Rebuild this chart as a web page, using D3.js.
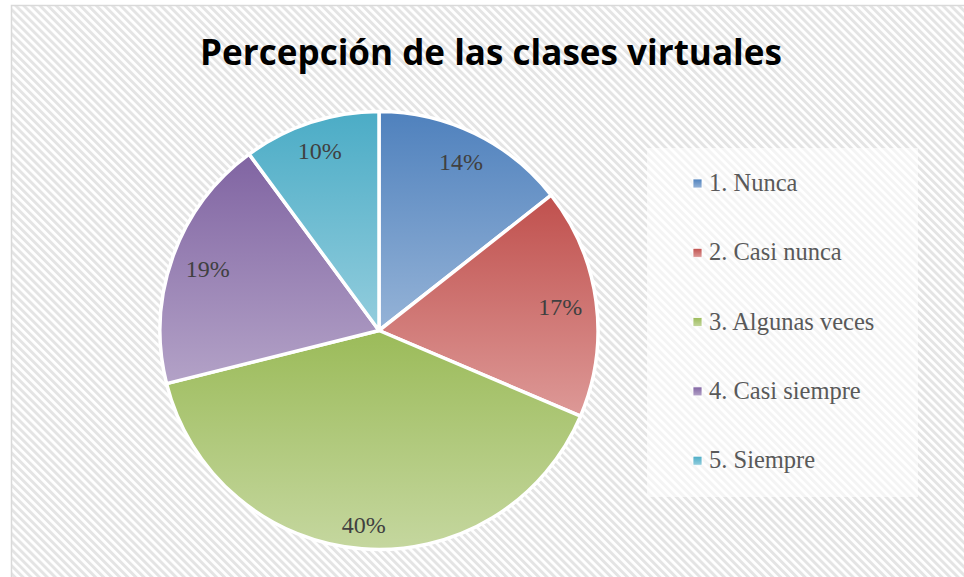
<!DOCTYPE html>
<html>
<head>
<meta charset="utf-8">
<script src="https://cdn.jsdelivr.net/npm/d3@7"></script>
<style>
  body { margin: 0; background: #fff; }
</style>
</head>
<body>
<div id="chart"></div>
<script>
var w = 964;
var h = 577;

// data (shares; labels show them rounded)
var categories = ["1. Nunca", "2. Casi nunca", "3. Algunas veces", "4. Casi siempre", "5. Siempre"];
var values = [14.4, 17.0, 39.7, 18.8, 10.1];
var darkColors = ["#4f81bd", "#c0504d", "#9bbb59", "#8064a2", "#4bacc6"];
var lightColors = ["#95b3d7", "#dd9997", "#c5d79f", "#b3a2c7", "#93cddd"];
var title = "Percepción de las clases virtuales";

var svg = d3.select("#chart")
    .append("svg")
    .attr("width", w)
    .attr("height", h);

var defs = svg.append("defs");

// diagonal hatch background
var hatch = defs.append("pattern")
    .attr("id", "hatch")
    .attr("patternUnits", "userSpaceOnUse")
    .attr("width", 5.7)
    .attr("height", 5.7)
    .attr("patternTransform", "rotate(-45)");
hatch.append("rect").attr("width", 5.7).attr("height", 5.7).attr("fill", "#ffffff");
hatch.append("rect").attr("width", 2.9).attr("height", 5.7).attr("fill", "#e4e4e4");

// one vertical gradient per slice
categories.forEach(function(c, i) {
  var gr = defs.append("linearGradient")
      .attr("id", "grad" + i)
      .attr("x1", 0).attr("y1", 0).attr("x2", 0).attr("y2", 1);
  gr.append("stop").attr("offset", "0%").attr("stop-color", darkColors[i]);
  gr.append("stop").attr("offset", "100%").attr("stop-color", lightColors[i]);
});

// chart area
svg.append("rect")
    .attr("x", 11.5)
    .attr("y", 5.5)
    .attr("width", w)
    .attr("height", h)
    .attr("fill", "url(#hatch)")
    .attr("stroke", "#d9d9d9")
    .attr("stroke-width", 1.5);

// title, sized to the width it takes in the reference
var titleText = svg.append("text")
    .attr("x", 491)
    .attr("y", 65)
    .attr("text-anchor", "middle")
    .style("font-family", "'Open Sans', 'Noto Sans', sans-serif")
    .style("font-weight", "bold")
    .style("font-size", "40px")
    .attr("fill", "#000")
    .text(title);
var tw = titleText.node().getComputedTextLength();
titleText.style("font-size", (40 * 582 / tw) + "px");

// pie
var cx = 379, cy = 330.5, radius = 219;

var pie = d3.pie().sort(null).value(function(d) { return d; });
var arcs = pie(values);

var arc = d3.arc().innerRadius(0).outerRadius(radius);

var g = svg.append("g")
    .attr("transform", "translate(" + cx + "," + cy + ")");

g.selectAll(".slice")
  .data(arcs)
  .enter().append("path")
    .attr("class", "slice")
    .attr("d", arc)
    .attr("fill", function(d, i) { return "url(#grad" + i + ")"; })
    .attr("stroke", "#fff")
    .attr("stroke-width", 3.5)
    .attr("stroke-linejoin", "round");

// labels sit inside the slice, pushed out until their box nearly touches the rim
var labels = g.selectAll(".label")
  .data(arcs)
  .enter().append("text")
    .attr("class", "label")
    .attr("dy", "0.35em")
    .attr("text-anchor", "middle")
    .style("font-family", "'Liberation Serif', 'DejaVu Serif', serif")
    .style("font-size", "24px")
    .attr("fill", "#404040")
    .text(function(d) { return Math.round(d.data) + "%"; });

labels.attr("transform", function(d) {
  var a = (d.startAngle + d.endAngle) / 2;
  var hw = this.getComputedTextLength() / 2, hh = 10;
  var r = radius - 13 - (hw * Math.abs(Math.sin(a)) + hh * Math.abs(Math.cos(a)));
  return "translate(" + (r * Math.sin(a)) + "," + (-r * Math.cos(a)) + ")";
});

// legend
var legend = svg.append("g");
legend.append("rect")
    .attr("x", 647)
    .attr("y", 148)
    .attr("width", 271)
    .attr("height", 349)
    .attr("fill", "#fff")
    .attr("fill-opacity", 0.6);

var item = legend.selectAll(".item")
  .data(categories)
  .enter().append("g")
    .attr("class", "item")
    .attr("transform", function(d, i) { return "translate(693," + (191 + i * 69.3) + ")"; });

item.append("rect")
    .attr("x", 0)
    .attr("y", -12)
    .attr("width", 9)
    .attr("height", 9)
    .attr("fill", function(d, i) { return "url(#grad" + i + ")"; })
    .attr("stroke", "#fff")
    .attr("stroke-width", 0.8);

item.append("text")
    .attr("x", 16)
    .attr("y", 0)
    .style("font-family", "'Liberation Serif', 'DejaVu Serif', serif")
    .style("font-size", "24.5px")
    .attr("fill", "#595959")
    .text(function(d) { return d; });
</script>
</body>
</html>
